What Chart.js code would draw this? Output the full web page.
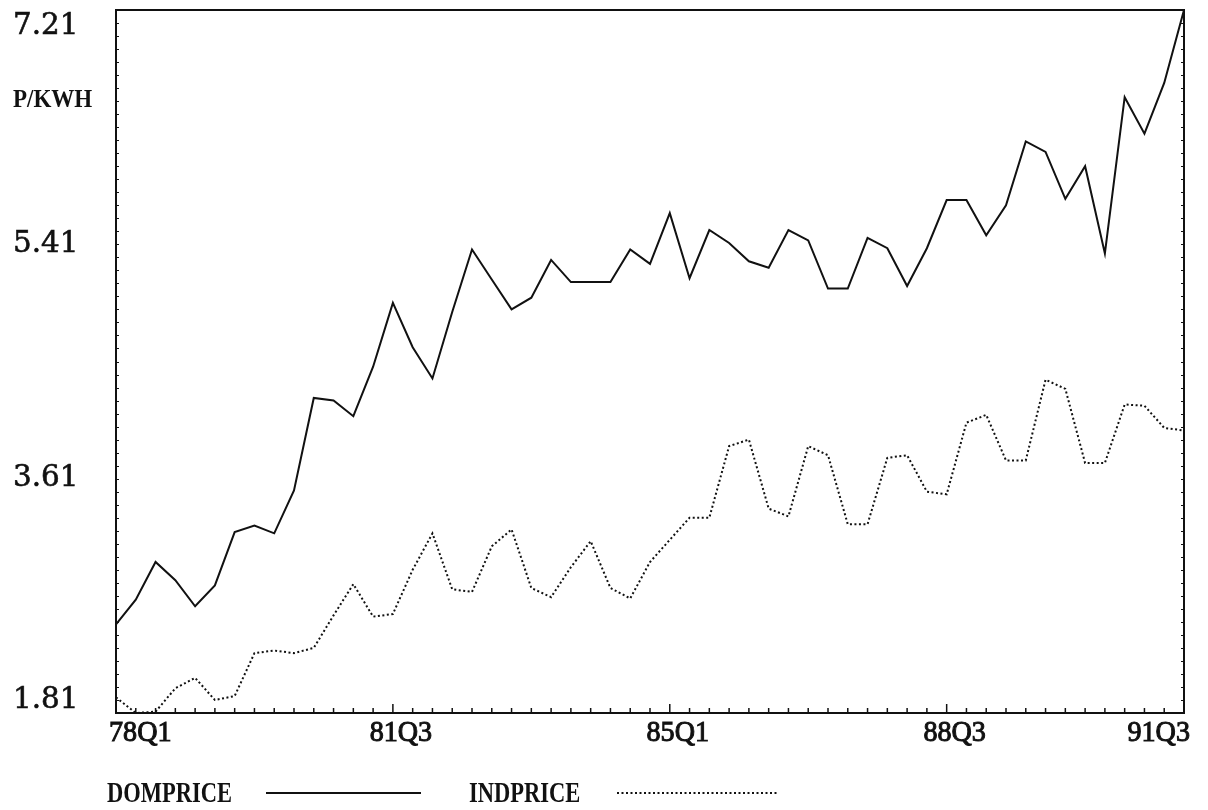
<!DOCTYPE html>
<html>
<head>
<meta charset="utf-8">
<title>DOMPRICE / INDPRICE</title>
<script src="https://cdn.jsdelivr.net/npm/chart.js@4.4.1/dist/chart.umd.min.js"></script>
<style>
  html, body { margin: 0; padding: 0; background: #fff; }
  #wrap { width: 1208px; height: 810px; }
</style>
</head>
<body>
<div id="wrap"><canvas id="priceChart" width="1208" height="810"></canvas></div>
<script>
// 季度 78Q1 .. 91Q3
const quarters = [
  '78Q1','78Q2','78Q3','78Q4','79Q1','79Q2','79Q3','79Q4',
  '80Q1','80Q2','80Q3','80Q4','81Q1','81Q2','81Q3','81Q4',
  '82Q1','82Q2','82Q3','82Q4','83Q1','83Q2','83Q3','83Q4',
  '84Q1','84Q2','84Q3','84Q4','85Q1','85Q2','85Q3','85Q4',
  '86Q1','86Q2','86Q3','86Q4','87Q1','87Q2','87Q3','87Q4',
  '88Q1','88Q2','88Q3','88Q4','89Q1','89Q2','89Q3','89Q4',
  '90Q1','90Q2','90Q3','90Q4','91Q1','91Q2','91Q3'
];

// 家庭电价 (p/kWh)
const domPrice = [
  2.49, 2.68, 2.97, 2.83, 2.63, 2.79, 3.20, 3.25, 3.19, 3.52,
  4.23, 4.21, 4.09, 4.47, 4.96, 4.62, 4.38, 4.89, 5.37, 5.14,
  4.91, 5.00, 5.29, 5.12, 5.12, 5.12, 5.37, 5.26, 5.65, 5.15,
  5.52, 5.42, 5.28, 5.23, 5.52, 5.44, 5.07, 5.07, 5.46, 5.38,
  5.09, 5.38, 5.75, 5.75, 5.48, 5.71, 6.20, 6.12, 5.76, 6.01,
  5.34, 6.54, 6.26, 6.65, 7.21
];

// 工业电价 (p/kWh)
const indPrice = [
  1.93, 1.81, 1.82, 2.00, 2.08, 1.91, 1.94, 2.27, 2.29, 2.27,
  2.31, 2.56, 2.80, 2.55, 2.57, 2.91, 3.19, 2.76, 2.74, 3.09,
  3.22, 2.77, 2.70, 2.93, 3.13, 2.77, 2.69, 2.97, 3.14, 3.31,
  3.31, 3.86, 3.91, 3.38, 3.32, 3.86, 3.79, 3.26, 3.26, 3.77,
  3.79, 3.51, 3.49, 4.04, 4.10, 3.75, 3.75, 4.37, 4.30, 3.73,
  3.73, 4.18, 4.17, 4.00, 3.98
];

// 坐标轴刻度标签
const xTickLabels = ['78Q1', '81Q3', '85Q1', '88Q3', '91Q3'];
const yTicks = [1.81, 3.61, 5.41, 7.21];
const yUnit = 'P/KWH';

const INK = '#111';

// 横向压缩绘制文字（模拟老式点阵字体），heavy 为描边加粗
function drawText(ctx, text, x, y, font, sx, align, baseline, heavy) {
  ctx.save();
  ctx.font = font;
  ctx.fillStyle = INK;
  ctx.strokeStyle = INK;
  ctx.textAlign = align;
  ctx.textBaseline = baseline;
  ctx.translate(x, y);
  ctx.scale(sx, 1);
  ctx.fillText(text, 0, 0);
  if (heavy) {
    ctx.lineWidth = heavy;
    ctx.strokeText(text, 0, 0);
  }
  ctx.restore();
}

function seg(ctx, x1, y1, x2, y2) {
  ctx.beginPath();
  ctx.moveTo(x1, y1);
  ctx.lineTo(x2, y2);
  ctx.stroke();
}

// ======================== 边框 / 刻度 / 标签 / 图例 ========================
const framePlugin = {
  id: 'framePlugin',
  afterDraw(chart) {
    const { ctx, chartArea: a, scales: { x, y } } = chart;
    ctx.save();
    ctx.strokeStyle = INK;

    // 外框
    ctx.lineWidth = 2;
    ctx.strokeRect(a.left, a.top, a.right - a.left, a.bottom - a.top);

    // X 轴季度小刻度（朝内）
    ctx.lineWidth = 1.5;
    quarters.forEach((q, i) => {
      const px = x.getPixelForValue(i);
      const len = xTickLabels.includes(q) ? 9 : 5;
      seg(ctx, px, a.bottom, px, a.bottom - len);
    });

    // Y 轴细刻度，每 0.1 一个
    ctx.lineWidth = 1;
    const yMin = yTicks[0], yMax = yTicks[yTicks.length - 1];
    for (let k = 0; yMin + k * 0.1 <= yMax + 1e-6; k++) {
      const py = Math.round(y.getPixelForValue(yMin + k * 0.1)) + 0.5;
      seg(ctx, a.left, py, a.left + 3, py);
      seg(ctx, a.right, py, a.right - 3, py);
    }

    // Y 轴标签
    const yFont = '30px "DejaVu Serif", serif';
    yTicks.forEach((v, i) => {
      const py = y.getPixelForValue(v);
      let base = 'middle', yy = py;
      if (i === yTicks.length - 1) { base = 'top'; yy = a.top + 1; }
      if (i === 0) { base = 'bottom'; yy = a.bottom + 2; }
      drawText(ctx, v.toFixed(2), 13, yy, yFont, 0.98, 'left', base, 0.6);
    });
    drawText(ctx, yUnit, 13, 101, 'bold 25px "Liberation Serif", serif', 0.92, 'left', 'middle');

    // X 轴标签
    const xFont = '29px "Liberation Serif", serif';
    xTickLabels.forEach((lab, i) => {
      const px = x.getPixelForValue(quarters.indexOf(lab));
      let align = 'center', xx = px + 8;
      if (i === 0) { align = 'left'; xx = px - 7; }
      if (i === xTickLabels.length - 1) { align = 'right'; xx = px + 6; }
      drawText(ctx, lab, xx, a.bottom + 6, xFont, 0.97, align, 'top', 1);
    });

    // 图例：文字 + 线样
    const legendItems = [
      { ds: chart.data.datasets[0], tx: 107, lx1: 266, lx2: 421 },
      { ds: chart.data.datasets[1], tx: 469, lx1: 617, lx2: 777 }
    ];
    legendItems.forEach(item => {
      drawText(ctx, item.ds.label, item.tx, 794, 'bold 30px "Liberation Serif", serif', 0.75, 'left', 'middle');
      ctx.save();
      ctx.lineWidth = item.ds.borderWidth;
      ctx.setLineDash(item.ds.borderDash || []);
      seg(ctx, item.lx1, 793, item.lx2, 793);
      ctx.restore();
    });

    ctx.restore();
  }
};

// ======================== 折线图 ========================
new Chart(document.getElementById('priceChart'), {
  type: 'line',
  data: {
    labels: quarters,
    datasets: [
      {
        label: 'DOMPRICE',
        data: domPrice,
        borderColor: INK,
        borderWidth: 2,
        pointRadius: 0,
        tension: 0,
        fill: false
      },
      {
        label: 'INDPRICE',
        data: indPrice,
        borderColor: INK,
        borderWidth: 2,
        borderDash: [2, 2.5],
        pointRadius: 0,
        tension: 0,
        fill: false
      }
    ]
  },
  options: {
    responsive: false,
    animation: false,
    layout: { padding: { left: 116, right: 24, top: 10, bottom: 97 } },
    plugins: {
      legend: { display: false },
      tooltip: { enabled: false }
    },
    scales: {
      x: { type: 'category', display: false, offset: false },
      y: { display: false, min: yTicks[0], max: yTicks[yTicks.length - 1] }
    }
  },
  plugins: [framePlugin]
});
</script>
</body>
</html>
